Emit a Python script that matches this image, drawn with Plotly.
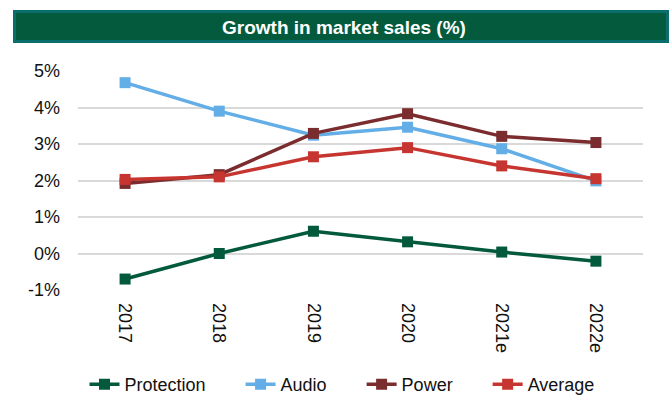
import plotly.graph_objects as go

categories = ["2017", "2018", "2019", "2020", "2021e", "2022e"]
protection = [-0.70, 0.00, 0.61, 0.32, 0.04, -0.21]
audio = [4.68, 3.90, 3.24, 3.46, 2.87, 1.99]
power = [1.92, 2.16, 3.29, 3.83, 3.21, 3.04]
average = [2.03, 2.10, 2.65, 2.90, 2.40, 2.05]
series_names = ["Protection", "Audio", "Power", "Average"]
series_colors = ["#03593B", "#63AEE6", "#7A2C2E", "#C6352F"]
y_ticks = [-1, 0, 1, 2, 3, 4, 5]
y_tick_labels = ["-1%", "0%", "1%", "2%", "3%", "4%", "5%"]

FONT = "Liberation Sans, Arial, sans-serif"
PAD = "\u00a0" * 6

fig = go.Figure()
for i, (name, vals, col) in enumerate(zip(series_names, [protection, audio, power, average], series_colors)):
    label = name + (PAD if i < len(series_names) - 1 else "")
    fig.add_trace(go.Scatter(
        x=list(range(len(categories))), y=vals, name=label, mode="lines+markers",
        line=dict(color=col, width=3.5),
        marker=dict(symbol="square", size=11, color=col),
    ))

L, R, T, B = 78, 28, 71, 124
W, H = 671, 414
pw, ph = W - L - R, H - T - B

def px_x(x):
    return (x - L) / pw

def px_y(y):
    return (H - B - y) / ph

fig.add_shape(type="rect", xref="paper", yref="paper",
              x0=px_x(14.5), x1=px_x(667.5), y0=px_y(41.5), y1=px_y(11.5),
              fillcolor="#035A3C", line=dict(color="#0A6E6E", width=3), layer="above")
fig.add_annotation(text="<b>Growth in market sales (%)</b>", xref="paper", yref="paper",
                   x=px_x(344), y=px_y(27), showarrow=False,
                   font=dict(family=FONT, size=19, color="white"),
                   xanchor="center", yanchor="middle")

fig.update_layout(
    width=W, height=H,
    margin=dict(l=L, r=R, t=T, b=B, autoexpand=False),
    paper_bgcolor="white", plot_bgcolor="white",
    font=dict(family=FONT, size=17, color="#111111"),
    showlegend=True,
    legend=dict(orientation="h", x=px_x(342), xanchor="center", y=px_y(366), yanchor="top",
                font=dict(family=FONT, size=18, color="#111111"),
                tracegroupgap=0),
    xaxis=dict(
        range=[-0.5, len(categories) - 0.5],
        tickmode="array", tickvals=list(range(len(categories))), ticktext=categories,
        tickangle=90, showgrid=False, zeroline=False, showline=False,
        ticks="", ticklabelstandoff=12,
        tickfont=dict(family=FONT, size=18, color="#111111"),
    ),
    yaxis=dict(
        range=[-1, 5], tickmode="array", tickvals=y_ticks, ticktext=y_tick_labels,
        showgrid=True, gridcolor="#D9D9D9", gridwidth=1.5, zeroline=False,
        showline=False, ticks="", ticklabelstandoff=17,
        tickfont=dict(family=FONT, size=18, color="#111111"),
    ),
)

fig.write_html("out.html")
